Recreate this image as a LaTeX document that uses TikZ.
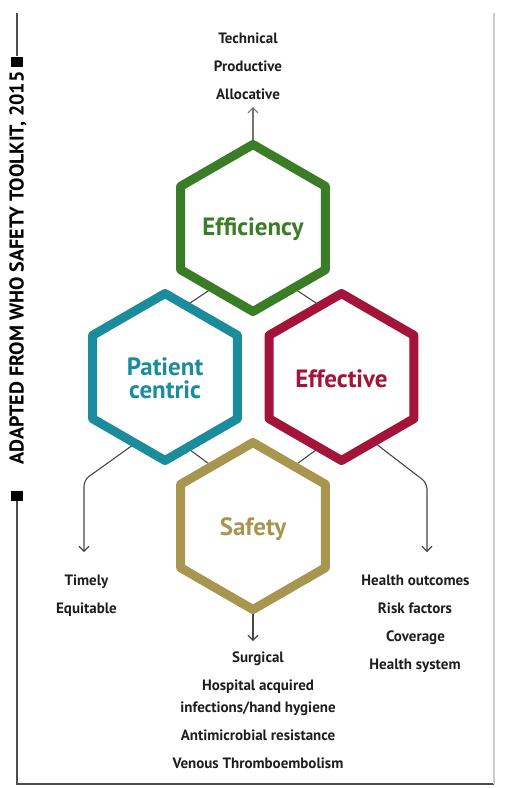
\documentclass[tikz,border=0pt]{standalone}
\usepackage{fontspec}
\setmainfont{PT Sans}
\usetikzlibrary{calc,arrows.meta}
\definecolor{effgreen}{RGB}{59,125,38}
\definecolor{patteal}{RGB}{27,140,156}
\definecolor{effred}{RGB}{163,19,58}
\definecolor{safgold}{RGB}{168,150,80}
\definecolor{txtdark}{RGB}{30,30,30}
\definecolor{conncol}{RGB}{70,70,70}
\newcommand\hexat[2]{\draw[hexline,draw=#2] ($(#1)+(0,-83.5)$) -- ($(#1)+(-72.3,-41.75)$) -- ($(#1)+(-72.3,41.75)$) -- ($(#1)+(0,83.5)$) -- ($(#1)+(72.3,41.75)$) -- ($(#1)+(72.3,-41.75)$) -- cycle;}
\tikzset{
  hexline/.style={line width=9pt, line join=round, fill=white},
  hexlabel/.style={font=\bfseries\fontsize{25}{23}\selectfont, inner sep=0pt, align=center},
  smalllabel/.style={font=\bfseries\fontsize{15}{22}\selectfont, text=txtdark, inner sep=0pt, anchor=base, align=center},
  conn/.style={draw=conncol, line width=1.1pt},
  arr/.style={conn, -{Straight Barb[length=5pt,width=10pt]}},
  framedark/.style={draw=black!70, line width=1.2pt},
  framelight/.style={draw=black!20, line width=1.2pt},
  sqmark/.style={fill=black, minimum width=12pt, minimum height=10pt, inner sep=0pt}
}
\begin{document}
\begin{tikzpicture}[x=1pt,y=-1pt]
\useasboundingbox (0,0) rectangle (504,788);
% frame
\coordinate (ftl) at (17,13);
\coordinate (fbl) at (17,784);
\coordinate (fbr) at (494,784);
\coordinate (ftr) at (494,13);
\node[sqmark] (sqt) at (17,61.5) {};
\node[sqmark] (sqb) at (17,495.5) {};
\draw[framedark] (ftl) -- (sqt.north);
\draw[framedark] (sqb.south) -- (fbl) -- (fbr);
\draw[framelight] (ftr) -- (fbr);
\node[rotate=90, font=\bfseries\fontsize{20}{22}\selectfont, text=black, inner sep=0pt] (src) at (18,268) {ADAPTED FROM WHO SAFETY TOOLKIT, 2015};
% hexagon centres
\coordinate (effc) at (253,228);
\coordinate (patc) at (165,377);
\coordinate (efvc) at (341.5,377);
\coordinate (safc) at (253,526);
% connector end points
\coordinate (pe1) at (181,309);
\coordinate (pe2) at (217,285);
\coordinate (fe1) at (325,309);
\coordinate (fe2) at (289,285);
\coordinate (ps1) at (186,447);
\coordinate (ps2) at (216,469);
\coordinate (fs1) at (320,447);
\coordinate (fs2) at (290,469);
\coordinate (lo1) at (137,442);
\coordinate (lo2) at (84,480);
\coordinate (lo3) at (84,552);
\coordinate (ro1) at (371,440);
\coordinate (ro2) at (427,483);
\coordinate (ro3) at (427,552);
\coordinate (to1) at (253,150);
\coordinate (to2) at (253,107);
\coordinate (bo1) at (253,600);
\coordinate (bo2) at (253,641);
% connectors
\draw[conn] (pe1) -- (pe2);
\draw[conn] (fe1) -- (fe2);
\draw[conn] (ps1) -- (ps2);
\draw[conn] (fs1) -- (fs2);
\draw[arr, rounded corners=6pt] (lo1) -- (lo2) -- (lo3);
\draw[arr, rounded corners=6pt] (ro1) -- (ro2) -- (ro3);
\draw[arr, draw=black!55] (to1) -- (to2);
\draw[arr] (bo1) -- (bo2);
% hexagons
\hexat{effc}{effgreen}
\hexat{patc}{patteal}
\hexat{efvc}{effred}
\hexat{safc}{safgold}
% hexagon labels
\node[hexlabel, text=effgreen, anchor=base] (eff) at (253,235) {Efficiency};
\node[hexlabel, text=patteal] (pat) at (165,378) {Patient\\centric};
\node[hexlabel, text=effred, anchor=base] (efv) at (341.5,387) {Effective};
\node[hexlabel, text=safgold, anchor=base] (saf) at (253,535) {Safety};
% outer labels
\node[smalllabel] (tech) at (248,43.3) {Technical};
\node[smalllabel] (prod) at (248,71.5) {Productive};
\node[smalllabel] (allo) at (248,99.7) {Allocative};
\node[smalllabel] (time) at (86.5,585.7) {Timely};
\node[smalllabel] (equi) at (86.5,613) {Equitable};
\node[smalllabel] (hout) at (415.5,585.7) {Health outcomes};
\node[smalllabel] (risk) at (415,613.3) {Risk factors};
\node[smalllabel] (cove) at (415.5,641) {Coverage};
\node[smalllabel] (hsys) at (415,669) {Health system};
\node[smalllabel] (surg) at (258,662.7) {Surgical};
\node[smalllabel] (hosp) at (258,690.7) {Hospital acquired};
\node[smalllabel] (infe) at (258,712.5) {infections/hand hygiene};
\node[smalllabel] (anti) at (258,740) {Antimicrobial resistance};
\node[smalllabel] (veno) at (258,768.3) {Venous Thromboembolism};
\end{tikzpicture}
\end{document}
